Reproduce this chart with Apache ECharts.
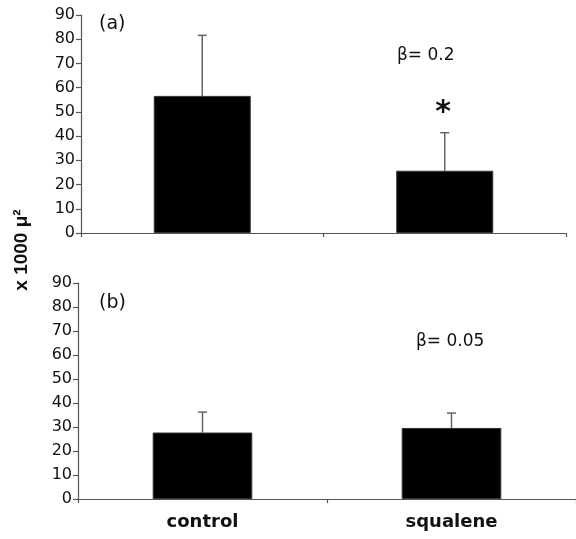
<!DOCTYPE html>
<html>
<head>
<meta charset="utf-8">
<script src="https://cdn.jsdelivr.net/npm/echarts@6/dist/echarts.min.js"></script>
<style>
  html, body { margin: 0; padding: 0; background: #fff; }
  #main { width: 576px; height: 539px; }
</style>
</head>
<body>
<div id="main"></div>
<script>
// data
var categories = ['control', 'squalene'];
var meansA = [56.6, 25.7];   // panel (a)
var errA = [25.0, 15.7];
var meansB = [27.7, 29.6];   // panel (b)
var errB = [8.5, 6.2];
var yTicks = [0, 10, 20, 30, 40, 50, 60, 70, 80, 90];

var chart = echarts.init(document.getElementById('main'));

function errRows(means, errs) {
    return categories.map(function (c, i) { return [i, means[i], errs[i]]; });
}

// error bar: stem from bar top upward, with a small cap
function renderErr(params, api) {
    var base = api.coord([api.value(0), api.value(1)]);
    var top = api.coord([api.value(0), api.value(1) + api.value(2)]);
    var st = { stroke: '#666', lineWidth: 1.5 };
    return {
        type: 'group',
        children: [
            { type: 'line', shape: { x1: base[0], y1: base[1], x2: top[0], y2: top[1] }, style: st },
            { type: 'line', shape: { x1: top[0] - 4.5, y1: top[1], x2: top[0] + 4.5, y2: top[1] }, style: st }
        ]
    };
}

var axisLineStyle = { color: '#555', width: 1.2 };

function yAxisFor(gi) {
    return {
        type: 'value', gridIndex: gi,
        min: yTicks[0], max: yTicks[yTicks.length - 1], interval: 10,
        axisLine: { show: true, lineStyle: axisLineStyle },
        axisTick: { show: true, length: 5, lineStyle: axisLineStyle },
        splitLine: { show: false },
        axisLabel: { color: '#111', fontSize: 16, fontFamily: 'DejaVu Sans', margin: 6 }
    };
}

function xAxisFor(gi, showLabel) {
    return {
        type: 'category', gridIndex: gi, data: categories,
        axisLine: { show: true, lineStyle: axisLineStyle },
        axisTick: { show: true, length: 4, lineStyle: axisLineStyle },
        axisLabel: {
            show: showLabel, color: '#111', fontSize: 18, fontWeight: 'bold',
            fontFamily: 'DejaVu Sans', margin: 14
        }
    };
}

var barStyle = { color: '#000', borderColor: '#333', borderWidth: 1 };

var option = {
    backgroundColor: '#fff',
    animation: false,
    grid: [
        { left: 81, top: 15, width: 485, height: 218 },
        { left: 78, top: 283, width: 504, height: 216 }
    ],
    xAxis: [xAxisFor(0, false), xAxisFor(1, true)],
    yAxis: [yAxisFor(0), yAxisFor(1)],
    series: [
        { type: 'bar', xAxisIndex: 0, yAxisIndex: 0, data: meansA, barWidth: '40%', itemStyle: barStyle },
        { type: 'custom', xAxisIndex: 0, yAxisIndex: 0, data: errRows(meansA, errA),
          renderItem: renderErr, encode: { x: 0, y: 1 }, z: 1 },
        { type: 'bar', xAxisIndex: 1, yAxisIndex: 1, data: meansB, barWidth: '40%', itemStyle: barStyle },
        { type: 'custom', xAxisIndex: 1, yAxisIndex: 1, data: errRows(meansB, errB),
          renderItem: renderErr, encode: { x: 0, y: 1 }, z: 1 }
    ],
    graphic: [
        { type: 'text', x: 22, y: 250, rotation: Math.PI / 2,
          style: { text: 'x 1000 μ²', fill: '#111', font: 'bold 19px "Liberation Sans"',
                   textAlign: 'center', textVerticalAlign: 'middle' } },
        { type: 'text', left: 99, top: 15,
          style: { text: '(a)', fill: '#111', font: '19px "DejaVu Sans"' } },
        { type: 'text', left: 99, top: 294,
          style: { text: '(b)', fill: '#111', font: '19px "DejaVu Sans"' } },
        { type: 'text', left: 397, top: 47,
          style: { text: 'β= 0.2', fill: '#111', font: '17px "DejaVu Sans"' } },
        { type: 'text', left: 416, top: 333,
          style: { text: 'β= 0.05', fill: '#111', font: '17px "DejaVu Sans"' } },
        { type: 'text', x: 443, y: 113,
          style: { text: '*', fill: '#111', font: 'bold 30px "DejaVu Sans"',
                   textAlign: 'center', textVerticalAlign: 'middle' } }
    ]
};

chart.setOption(option);
</script>
</body>
</html>
